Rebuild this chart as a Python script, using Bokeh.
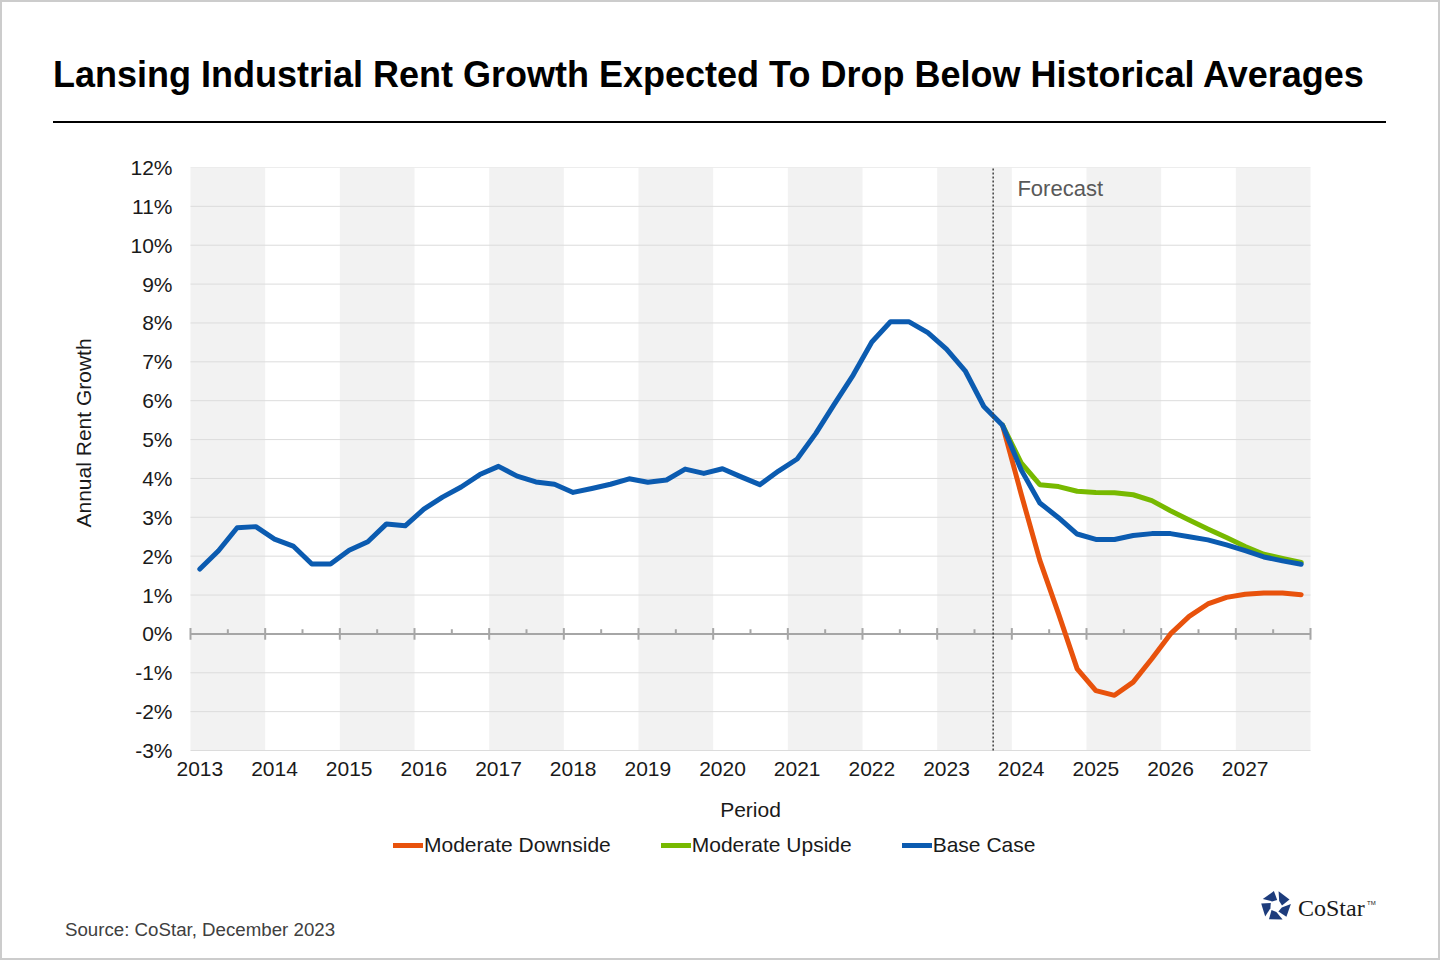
import math
from bokeh.plotting import figure
from bokeh.embed import file_html
from bokeh.resources import INLINE
from bokeh.layouts import column
from bokeh.models import (Range1d, FixedTicker, Label, Legend, LegendItem,
                          Title, Div)

# quarterly data, 2013 Q1 .. 2027 Q4
years = list(range(2013, 2028))
forecast_start = 43  # 2023 Q4, where the scenarios split

base_case = [1.67, 2.14, 2.73, 2.76, 2.44, 2.26, 1.80, 1.80, 2.15, 2.37,
             2.83, 2.78, 3.21, 3.52, 3.78, 4.10, 4.31, 4.06, 3.91, 3.85,
             3.64, 3.74, 3.85, 3.99, 3.90, 3.96, 4.24, 4.13, 4.25, 4.04,
             3.84, 4.19, 4.50, 5.16, 5.92, 6.66, 7.51, 8.03, 8.03, 7.75,
             7.33, 6.77, 5.85, 5.37, 4.22, 3.37, 2.99, 2.57, 2.43, 2.43,
             2.53, 2.58, 2.58, 2.50, 2.42, 2.29, 2.14, 1.98, 1.88, 1.79]
moderate_upside = [5.37, 4.40, 3.84, 3.79, 3.67, 3.64, 3.63, 3.58, 3.43,
                   3.17, 2.93, 2.70, 2.48, 2.25, 2.05, 1.94, 1.84]
moderate_downside = [5.37, 3.60, 1.89, 0.52, -0.90, -1.46, -1.58, -1.24, -0.64,
                     0.00, 0.45, 0.77, 0.94, 1.02, 1.05, 1.05, 1.01]
y_ticks = list(range(-3, 13))

title_text = "Lansing Industrial Rent Growth Expected To Drop Below Historical Averages"
source_text = "Source: CoStar, December 2023"

FONT = "Liberation Sans"
BAND = "#f2f2f2"
GRID = "#dcdcdc"
AXIS_GREY = "#a6a6a6"
W = 1440

# ---- header (title + rule)
header = Div(width=W, height=150, margin=0, text=f"""
<div style="position:relative;width:{W}px;height:150px;">
  <div style="position:absolute;left:53px;top:55px;line-height:40px;white-space:nowrap;
       font-family:'{FONT}';font-weight:bold;font-size:36px;color:#000;">{title_text}</div>
  <div style="position:absolute;left:53px;top:121px;width:1333px;height:2px;background:#000;"></div>
</div>""")

# ---- chart
# plot area 1120 x 583 px; the frame is a little larger so the first year label,
# the axis title and the legend are not cut by it
n = len(base_case)
fig_h, top_border = 720, 17
px_per_unit = 583 / (y_ticks[-1] - y_ticks[0])
px_per_q = 1120 / n
pad = 18
y_low = y_ticks[-1] - (fig_h - top_border) / px_per_unit

x_all = [i + 0.5 for i in range(n)]
x_fc = [i + 0.5 for i in range(forecast_start, n)]

p = figure(width=W, height=fig_h, title=None,
           x_range=Range1d(-pad / px_per_q, n + pad / px_per_q),
           y_range=Range1d(y_low, y_ticks[-1]),
           output_backend="svg", toolbar_location=None,
           min_border_left=190 - pad, min_border_right=130 - pad,
           min_border_top=top_border, min_border_bottom=0)
p.outline_line_color = None
p.border_fill_color = None

band_years = [k for k in range(len(years)) if k % 2 == 0]
p.quad(left=[4 * k for k in band_years], right=[4 * k + 4 for k in band_years],
       bottom=y_ticks[0], top=y_ticks[-1], fill_color=BAND, line_color=None,
       level="image")
# horizontal grid over the plot area
p.segment(x0=0, y0=y_ticks, x1=n, y1=y_ticks, line_color=GRID, line_width=1)
p.grid.visible = False

p.yaxis.ticker = FixedTicker(ticks=y_ticks)
p.yaxis.major_label_overrides = {t: f"{t}%" for t in y_ticks}
p.xaxis.ticker = FixedTicker(ticks=[4 * k + 0.5 for k in range(len(years))])
p.xaxis.major_label_overrides = {4 * k + 0.5: str(y) for k, y in enumerate(years)}
p.xaxis.fixed_location = y_ticks[0]
for ax in (p.xaxis, p.yaxis):
    ax.axis_line_color = None
    ax.major_tick_line_color = None
    ax.minor_tick_line_color = None
    ax.major_tick_out = 0
    ax.major_label_text_font = FONT
    ax.major_label_text_font_size = "21px"
    ax.major_label_text_color = "#1a1a1a"
    ax.axis_label_text_font = FONT
    ax.axis_label_text_font_style = "normal"
    ax.axis_label_text_color = "#1a1a1a"
p.yaxis.major_label_standoff = 0
p.xaxis.major_label_standoff = 11
p.xaxis.axis_label = "Period"
p.xaxis.axis_label_text_font_size = "21px"
p.xaxis.axis_label_standoff = 19

p.add_layout(Title(text="Annual Rent Growth", align="left", offset=343, standoff=66,
                   text_font=FONT, text_font_size="21px", text_font_style="normal",
                   text_color="#1a1a1a"), "left")

# zero line with year ticks
major_x = [4 * k for k in range(len(years) + 1)]
minor_x = [4 * k + 2 for k in range(len(years))]
p.segment(x0=0, y0=0, x1=n, y1=0, line_color=AXIS_GREY, line_width=2)
p.segment(x0=major_x, y0=-0.15, x1=major_x, y1=0.15, line_color=AXIS_GREY, line_width=2)
p.segment(x0=minor_x, y0=0, x1=minor_x, y1=0.12, line_color=AXIS_GREY, line_width=2)

r_down = p.line(x_fc, moderate_downside, line_color="#e8520c", line_width=5,
                line_join="round", line_cap="round")
r_up = p.line(x_fc, moderate_upside, line_color="#77b900", line_width=5,
              line_join="round", line_cap="round")
r_base = p.line(x_all, base_case, line_color="#0b5bb0", line_width=5,
                line_join="round", line_cap="round")

# forecast divider over the plot area only
p.segment(x0=[forecast_start], y0=[y_ticks[0]], x1=[forecast_start], y1=[y_ticks[-1]],
          line_color="#404040", line_width=1.5, line_dash="2 2")
p.add_layout(Label(x=forecast_start + 1.3, y=11.45, text="Forecast", text_font=FONT,
                   text_font_size="22px", text_color="#595959", text_baseline="middle"))

legend = Legend(items=[LegendItem(label="Moderate Downside", renderers=[r_down]),
                       LegendItem(label="Moderate Upside", renderers=[r_up]),
                       LegendItem(label="Base Case", renderers=[r_base])],
                orientation="horizontal", location=(203 + pad, 13),
                glyph_width=30, glyph_height=20, label_standoff=1,
                spacing=50, padding=0, margin=0, border_line_color=None,
                background_fill_alpha=0, label_text_font=FONT,
                label_text_font_size="21px", label_text_color="#1a1a1a")
p.add_layout(legend, "center")

# ---- footer (source + mark)
cx, cy, R, r = 16, 16, 15, 6
polys = []
for k in range(5):
    a = math.radians(-90 + 72 * k)
    pts = [(R, a - math.radians(8)), (R, a - math.radians(62)),
           (r, a - math.radians(40)), (r, a + math.radians(12))]
    polys.append(" ".join(f"{cx + d * math.cos(t):.1f},{cy + d * math.sin(t):.1f}"
                          for d, t in pts))
logo_svg = "".join(f'<polygon points="{pt}" fill="#1d3c7c"/>' for pt in polys)

footer = Div(width=W, height=90, margin=0, text=f"""
<div style="position:relative;width:{W}px;height:90px;">
  <div style="position:absolute;left:65px;top:49px;line-height:22px;white-space:nowrap;
       font-family:'{FONT}';font-size:18.7px;color:#404040;">{source_text}</div>
  <svg style="position:absolute;left:1260px;top:20px;" width="32" height="32">{logo_svg}</svg>
  <div style="position:absolute;left:1298px;top:24px;line-height:28px;white-space:nowrap;
       font-family:'Liberation Serif';font-size:24px;color:#1a1a1a;">CoStar</div>
  <div style="position:absolute;left:1367px;top:29px;line-height:8px;
       font-family:'{FONT}';font-size:6px;color:#1a1a1a;">TM</div>
</div>""")

page = column(header, p, footer, spacing=0,
              styles={"outline": "2px solid #cccccc", "outline-offset": "-2px"})
open("out.html", "w").write(file_html(page, INLINE))
